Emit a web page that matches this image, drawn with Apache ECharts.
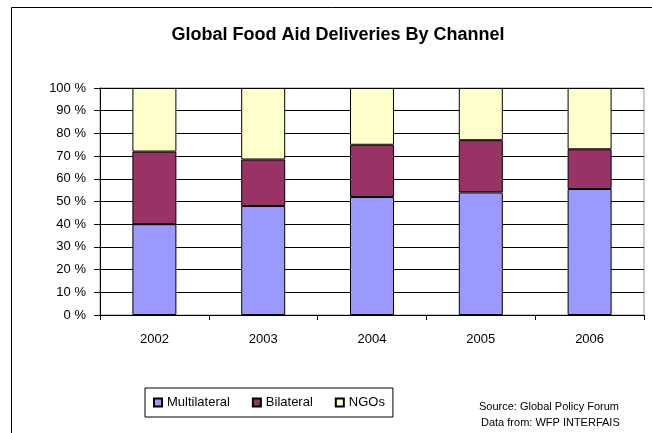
<!DOCTYPE html>
<html>
<head>
<meta charset="utf-8">
<script src="https://cdn.jsdelivr.net/npm/echarts@6/dist/echarts.min.js"></script>
<style>
html,body{margin:0;padding:0;background:#fff;}
#chart{width:652px;height:433px;}
</style>
</head>
<body>
<div id="chart"></div>
<script>
var years = ['2002', '2003', '2004', '2005', '2006'];
var multilateral = [40, 48, 52, 54, 55.5];
var bilateral = [32, 20.5, 23, 23, 17.5];
var ngos = [28, 31.5, 25, 23, 27];
var seriesNames = ['Multilateral', 'Bilateral', 'NGOs'];

var FONT = '"Liberation Sans", Arial, sans-serif';
var chart = echarts.init(document.getElementById('chart'), null, {renderer: 'canvas'});

function bar(name, data, color) {
  return {
    name: name, type: 'bar', stack: 'total', data: data, barWidth: 44,
    itemStyle: {color: color, borderColor: '#000', borderWidth: 1},
    emphasis: {disabled: true}
  };
}

chart.setOption({
  animation: false,
  backgroundColor: '#fff',
  textStyle: {fontFamily: FONT},
  title: {
    text: 'Global Food Aid Deliveries By Channel',
    left: 333, textAlign: 'center', top: 21,
    textStyle: {fontFamily: FONT, fontSize: 18, fontWeight: 'bold', color: '#000'}
  },
  grid: {left: 100, right: 8, top: 88, bottom: 118, show: true, borderColor: '#999', borderWidth: 1},
  xAxis: {
    type: 'category', data: years, boundaryGap: true,
    axisLine: {lineStyle: {color: '#000', width: 1}},
    axisTick: {show: true, length: 5, lineStyle: {color: '#000'}},
    axisLabel: {color: '#000', fontSize: 13, fontFamily: FONT, margin: 18}
  },
  yAxis: {
    type: 'value', min: 0, max: 100, interval: 10,
    axisLine: {show: true, lineStyle: {color: '#000', width: 1}},
    axisTick: {show: true, length: 6, lineStyle: {color: '#000'}},
    axisLabel: {color: '#000', fontSize: 13, fontFamily: FONT, margin: 14, formatter: '{value} %'},
    splitLine: {show: true, lineStyle: {color: '#000', width: 1}}
  },
  legend: {
    data: seriesNames, left: 145, top: 388,
    orient: 'horizontal', icon: 'rect', itemWidth: 8, itemHeight: 8, itemGap: 22,
    borderColor: '#000', borderWidth: 1, padding: [8, 8],
    textStyle: {color: '#000', fontSize: 13, fontFamily: FONT},
    selectedMode: false
  },
  graphic: [
    {type: 'rect', silent: true, z: -1, shape: {x: 11.5, y: 7.5, width: 800, height: 600},
     style: {fill: 'none', stroke: '#000', lineWidth: 1}},
    {type: 'text', left: 479, top: 401, silent: true,
     style: {text: 'Source: Global Policy Forum', fill: '#000', font: '11px ' + FONT}},
    {type: 'text', left: 481, top: 417, silent: true,
     style: {text: 'Data from: WFP INTERFAIS', fill: '#000', font: '11px ' + FONT}}
  ],
  series: [
    bar(seriesNames[0], multilateral, '#9999FF'),
    bar(seriesNames[1], bilateral, '#993366'),
    bar(seriesNames[2], ngos, '#FFFFCC')
  ]
});
</script>
</body>
</html>
